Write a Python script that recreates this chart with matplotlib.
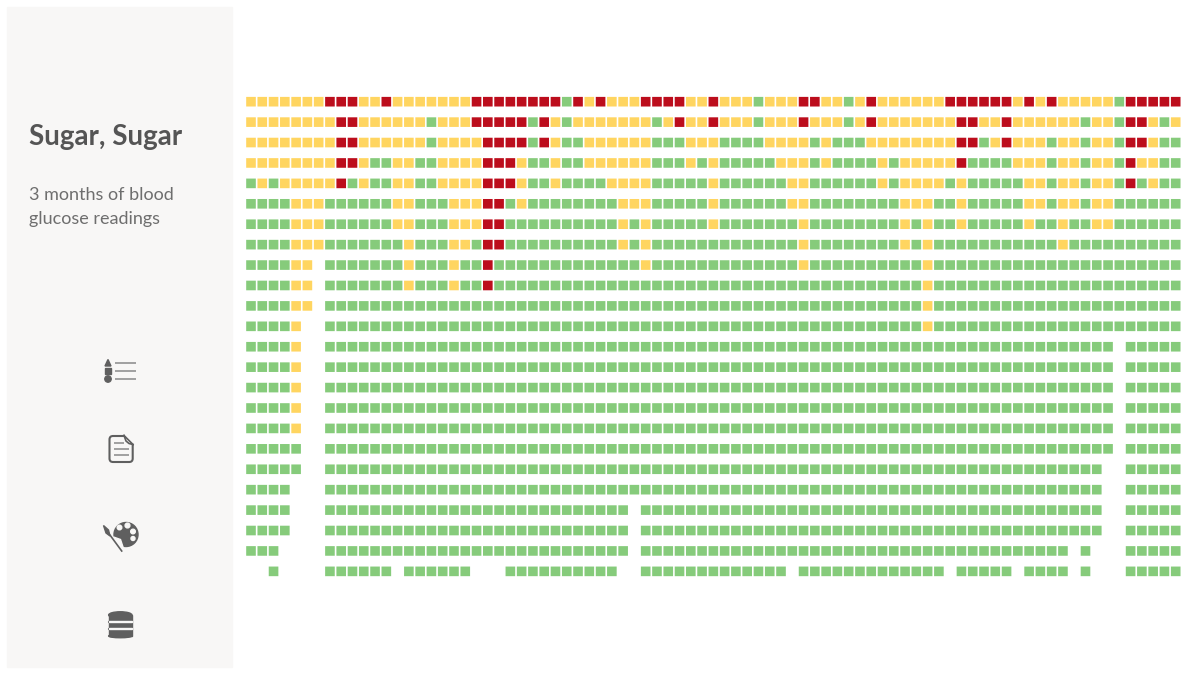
"""
Sugar, Sugar: 3 months of blood glucose readings as a grid of squares.
"""
import matplotlib
matplotlib.use("Agg")
import matplotlib.pyplot as plt
from matplotlib.patches import Circle, Ellipse, FancyBboxPatch, Polygon, Rectangle

TITLE = "Sugar, Sugar"
SUBTITLE = ["3 months of blood", "glucose readings"]

# one string per row, one character per day: G in range, Y high, R very high
ROWS = [
    "YYYYYYYRRR YYRYYYYYYY RRRRRRRRGR YRYYYRRRRY YRYYYGYYYR RYYGYRYYYY YYRRRRRRYR YRYYYYYGRR RRR",
    "YYYYYYYYRR YYYYYYGYYY RRRRRGRYGY YYYYYYGYRY YRYYYGYYYR YYYGYRYYYY YYYRRYYRYY YYYYGYYGRR YGY",
    "YYYYYYYYRR YYYYYYGYYY YRRRRGRYGG YYYYYYGGGY YYGGGGYYYY GYGGGYYYYY YYYRRGYRYY YGYYGYYGRR YGG",
    "YYYYYYYYRR YGGYYGGYYY YRRRYGGYGG YYYYYYGGGY GYGGGGGYYY GYGGGGYGYY YYYRGGGGYY YGYYGYYGRY YGG",
    "GYGYYYYYRG YGGYYGGYYY YRRRYGGYGG GGYYYYGGGG GYGGGGGGYY GGGGGGYGYY YYGYGGGGGY YGYYGYYGRG YGG",
    "GGGGYYYGGG GGGYYGGGYY YRRGYGGGGG GGGYYYGGGG GYGGGGGGYY GGGGGGGGYY YGGYGGGGGY YGYYGYYGGG GGG",
    "GGGGYYYGGG GGGYYGGGYY YRRGGGGGGG GGGYGYGGGG GYGGGGGGGY GGGGGGGGYG YGGYGGGGGY GGYGGYYGGG GGG",
    "GGGGYYYGGG GGGGYGGGYY GRRGGGGGGG GGGYGYGGGG GGGGGGGGGY GGGGGGGGYG YGGGGGGGGG GGYGGGGGGG GGG",
    "GGGGYY.GGG GGGGYGGGYG GRGGGGGGGG GGGGGYGGGG GGGGGGGGGY GGGGGGGGGG YGGGGGGGGG GGGGGGGGGG GGG",
    "GGGGYY.GGG GGGGYGGGYG GRGGGGGGGG GGGGGGGGGG GGGGGGGGGG GGGGGGGGGG YGGGGGGGGG GGGGGGGGGG GGG",
    "GGGGYY.GGG GGGGGGGGGG GGGGGGGGGG GGGGGGGGGG GGGGGGGGGG GGGGGGGGGG YGGGGGGGGG GGGGGGGGGG GGG",
    "GGGGY..GGG GGGGGGGGGG GGGGGGGGGG GGGGGGGGGG GGGGGGGGGG GGGGGGGGGG YGGGGGGGGG GGGGGGGGGG GGG",
    "GGGGY..GGG GGGGGGGGGG GGGGGGGGGG GGGGGGGGGG GGGGGGGGGG GGGGGGGGGG GGGGGGGGGG GGGGGGG.GG GGG",
    "GGGGY..GGG GGGGGGGGGG GGGGGGGGGG GGGGGGGGGG GGGGGGGGGG GGGGGGGGGG GGGGGGGGGG GGGGGGG.GG GGG",
    "GGGGY..GGG GGGGGGGGGG GGGGGGGGGG GGGGGGGGGG GGGGGGGGGG GGGGGGGGGG GGGGGGGGGG GGGGGGG.GG GGG",
    "GGGGY..GGG GGGGGGGGGG GGGGGGGGGG GGGGGGGGGG GGGGGGGGGG GGGGGGGGGG GGGGGGGGGG GGGGGGG.GG GGG",
    "GGGGY..GGG GGGGGGGGGG GGGGGGGGGG GGGGGGGGGG GGGGGGGGGG GGGGGGGGGG GGGGGGGGGG GGGGGGG.GG GGG",
    "GGGGG..GGG GGGGGGGGGG GGGGGGGGGG GGGGGGGGGG GGGGGGGGGG GGGGGGGGGG GGGGGGGGGG GGGGGGG.GG GGG",
    "GGGGG..GGG GGGGGGGGGG GGGGGGGGGG GGGGGGGGGG GGGGGGGGGG GGGGGGGGGG GGGGGGGGGG GGGGGG..GG GGG",
    "GGGG...GGG GGGGGGGGGG GGGGGGGGGG GGGGGGGGGG GGGGGGGGGG GGGGGGGGGG GGGGGGGGGG GGGGGG..GG GGG",
    "GGGG...GGG GGGGGGGGGG GGGGGGGGGG GGGG.GGGGG GGGGGGGGGG GGGGGGGGGG GGGGGGGGGG GGGGGG..GG GGG",
    "GGGG...GGG GGGGGGGGGG GGGGGGGGGG GGGG.GGGGG GGGGGGGGGG GGGGGGGGGG GGGGGGGGGG GGGGGG..GG GGG",
    "GGG....GGG GGGGGGGGGG GGGGGGGGGG GGGG.GGGGG GGGGGGGGGG GGGGGGGGGG GGGGGGGGGG GGG.G...GG GGG",
    "..G....GGG GGG.GGGGGG ...GGGGGGG GGG..GGGGG GGGGGGGG.G GGGGGGGGGG GG.GGGGG.G GGG.G...GG GGG",
]
LEVEL_COLORS = {"G": "#86CB7B", "Y": "#FFD560", "R": "#BC0D1C"}

PANEL = "#F8F7F6"
TEXT_DARK = "#555555"
TEXT_LIGHT = "#6E6E6E"
ICON = "#5F5F5F"
ICON_LIGHT = "#999999"

W, H = 1200, 674


def draw_grid(fig):
    # axes edges are set so column and row centres land on the square centres
    col_w, row_h = 11.277, 20.42
    left, top = 251 - col_w / 2, 101.7 - row_h / 2
    ncols = len(ROWS[0].replace(" ", ""))
    ax = fig.add_axes([left / W, 1 - (top + len(ROWS) * row_h) / H,
                       ncols * col_w / W, len(ROWS) * row_h / H])
    xs, ys, cs = [], [], []
    for r, row in enumerate(ROWS):
        for c, level in enumerate(row.replace(" ", "")):
            if level in LEVEL_COLORS:
                xs.append(c)
                ys.append(r)
                cs.append(LEVEL_COLORS[level])
    # snapping off, otherwise the gaps between squares come out uneven
    pts = ax.scatter(xs, ys, c=cs, marker="s", s=48, linewidths=0)
    pts.set_snap(False)
    ax.set_xlim(-0.5, ncols - 0.5)
    ax.set_ylim(len(ROWS) - 0.5, -0.5)
    ax.axis("off")


def draw_icons(ax):
    # list
    ax.add_patch(Polygon([[105, 366], [111, 366], [108, 359.5]], color=ICON))
    ax.add_patch(Rectangle((105, 367.5), 6, 6.5, color=ICON))
    ax.add_patch(Circle((108, 379), 3.2, color=ICON))
    for y in [362.7, 370.7, 379]:
        ax.plot([114.7, 136], [y, y], color=ICON_LIGHT, lw=1.3, solid_capstyle="butt")

    # document with folded corner
    ax.add_patch(FancyBboxPatch((109.5, 436), 23.2, 26,
                                boxstyle="round,pad=0,rounding_size=3.5",
                                fc="none", ec=ICON, lw=1.5))
    ax.add_patch(Polygon([[125, 434], [134.5, 434], [134.5, 444.5], [129, 443]],
                         color=PANEL, zorder=3))
    ax.plot([124, 126, 129, 133], [435.5, 441, 443.5, 444.5], color=ICON, lw=1.2, zorder=4)
    ax.plot([124, 133], [435.5, 444.5], color=ICON, lw=1.2, zorder=4)
    for y, x1 in [(443, 123.5), (448.7, 129), (454.7, 129)]:
        ax.plot([114, x1], [y, y], color=ICON_LIGHT, lw=1.3, solid_capstyle="butt", zorder=4)

    # palette and brush
    ax.add_patch(Circle((126, 534.5), 12, color=ICON))
    ax.add_patch(Polygon([[113.5, 537], [120.5, 539.5], [125, 553], [111, 553]], color=PANEL))
    for x, y, r in [(119.5, 527.5, 2.3), (127.5, 525.5, 2.4), (133, 531.5, 2.3),
                    (133, 538.5, 2)]:
        ax.add_patch(Circle((x, y), r, color=PANEL))
    ax.plot([107, 121.7], [531, 551], color=ICON, lw=1.2)
    ax.add_patch(Polygon([[103.5, 525.5], [108.5, 530], [110, 536], [106, 533]], color=ICON))

    # database
    for y in [618, 625, 632]:
        ax.add_patch(Rectangle((108.7, y - 3), 23.3, 7, color=ICON))
        ax.add_patch(Ellipse((120.3, y + 4), 23.3, 3.5, color=ICON))
    ax.add_patch(Ellipse((120.3, 615), 23.3, 6.5, color=ICON))
    for y in [621.5, 628.5]:
        ax.add_patch(Rectangle((108.7, y - 0.5), 23.3, 1, color=PANEL))


def main():
    fig = plt.figure(figsize=(W / 100, H / 100), dpi=100, facecolor="white")

    # sidebar drawn in pixel coordinates, y pointing down
    side = fig.add_axes([0, 0, 1, 1])
    side.set_xlim(0, W)
    side.set_ylim(H, 0)
    side.axis("off")
    panel = Rectangle((7.5, 7.5), 225, 660, color=PANEL)
    panel.set_snap(False)
    side.add_patch(panel)

    side.text(29, 144.5, TITLE, family="Lato", fontsize=20, fontweight="bold",
              color=TEXT_DARK, va="baseline")
    for y, line in zip([200, 224], SUBTITLE):
        side.text(29, y, line, family="Lato", fontsize=13,
                  color=TEXT_LIGHT, va="baseline")
    draw_icons(side)

    draw_grid(fig)

    fig.savefig("out.png", dpi=100, facecolor="white")
    plt.close(fig)


if __name__ == "__main__":
    main()
